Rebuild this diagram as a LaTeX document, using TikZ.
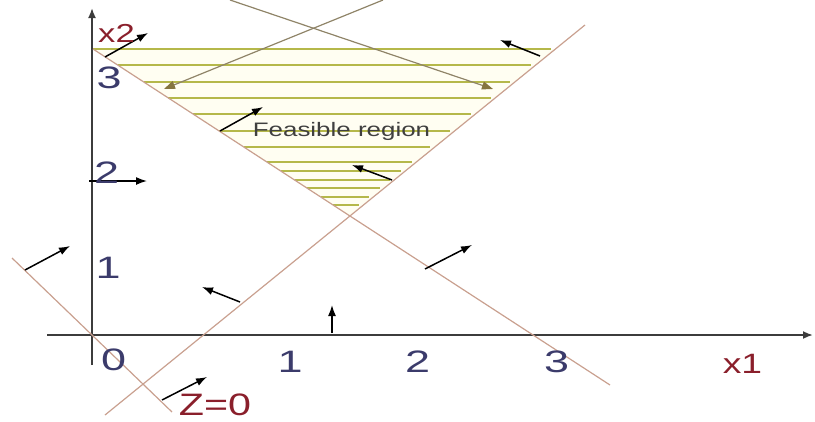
\documentclass[tikz,border=0pt]{standalone}
\usepackage{fontspec}
\setmainfont{Liberation Sans}
\usetikzlibrary{arrows.meta}
\definecolor{axisink}{HTML}{3C3C3C}
\definecolor{boundtan}{HTML}{C9A08F}
\definecolor{hatchgreen}{HTML}{B5B84A}
\definecolor{pointerbrown}{HTML}{8F8468}
\definecolor{headolive}{HTML}{857540}
\definecolor{digitblue}{HTML}{3B3B6B}
\definecolor{labelred}{HTML}{8A1F2B}
\definecolor{textgray}{HTML}{404040}

\begin{document}
\begin{tikzpicture}[
  x=1pt, y=-1pt,
  axis/.style={axisink, line width=1.8pt, -{Latex[length=10pt, width=8pt]}},
  bound/.style={boundtan, line width=1.2pt},
  hatch/.style={hatchgreen, line width=1.1pt},
  normal/.style={black, line width=1.5pt, -{Latex[length=11pt, width=8pt]}},
  pointer/.style={pointerbrown, line width=1.2pt, -{Triangle[length=11pt, width=8pt, fill=headolive, color=headolive]}},
  tick/.style={digitblue, inner sep=0pt, anchor=base, xscale=1.45, font=\fontsize{31}{31}\selectfont},
  varlabel/.style={labelred, inner sep=0pt, anchor=base, xscale=1.33},
  regionlabel/.style={textgray, inner sep=0pt, anchor=base, xscale=1.33, font=\fontsize{19.5}{19.5}\selectfont}
]
  \useasboundingbox (0,0) rectangle (815,421);

  % end points of the three lines
  \coordinate (c1) at (93,49);   \coordinate (c2) at (610,385);
  \coordinate (b1) at (105,415); \coordinate (b2) at (585,25);
  \coordinate (z1) at (12,258);  \coordinate (z2) at (172,412);

  % feasible region
  \fill[yellow!5] (93,49) -- (555,49) -- (350,216) -- cycle;
  \foreach \y in {49,65,82,98,114,131,147,162,171,180,188,197,205}
    \draw[hatch] ({93+(\y-49)/0.65},\y) -- ({205+(335-\y)/0.8125-6},\y);

  % axes
  \draw[axis] (92,365) -- (92,8);
  \draw[axis] (47,335) -- (813,335);

  % constraints and objective
  \draw[bound] (c1) -- (c2);
  \draw[bound] (b1) -- (b2);
  \draw[bound] (z1) -- (z2);

  % normals
  \draw[normal] (105,57) -- (148,33);
  \draw[normal] (540,56) -- (500,40);
  \draw[normal] (220,131) -- (263,107);
  \draw[normal] (392,180) -- (352,165);
  \draw[normal] (89,181) -- (147,181);
  \draw[normal] (25,270) -- (70,246);
  \draw[normal] (240,302) -- (202,287);
  \draw[normal] (162,400) -- (207,377);
  \draw[normal] (332,333) -- (332,305);
  \draw[normal] (425,269) -- (472,245);

  % corner pointers
  \draw[pointer] (230,0) -- (493,89);
  \draw[pointer] (383,0) -- (164,89);

  % labels
  \node[varlabel, font=\fontsize{26}{26}\selectfont] (xtwo) at (116.5,42) {x2};
  \node[varlabel, font=\fontsize{28}{28}\selectfont] (xone) at (742.5,373) {x1};
  \node[varlabel, font=\fontsize{31}{31}\selectfont] (zero) at (215,415) {Z=0};
  \node[tick] (ythree) at (109,88) {3};
  \node[tick] (ytwo) at (106.5,183) {2};
  \node[tick] (yone) at (108,278) {1};
  \node[tick] (xzero) at (113.5,370) {0};
  \node[tick] (xonet) at (290,372) {1};
  \node[tick] (xtwot) at (417.5,372) {2};
  \node[tick] (xthree) at (556.5,372) {3};
  \node[regionlabel] (region) at (341.5,136) {Feasible region};
\end{tikzpicture}
\end{document}
